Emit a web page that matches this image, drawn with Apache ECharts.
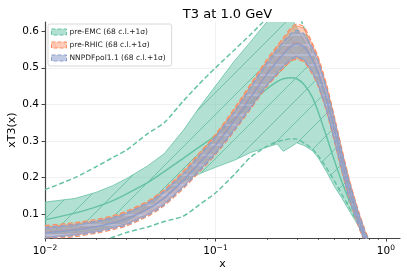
<!DOCTYPE html>
<html><head><meta charset="utf-8">
<script src="https://cdn.jsdelivr.net/npm/echarts@6/dist/echarts.min.js"></script>
<style>html,body{margin:0;padding:0;background:#fff}#c{width:407px;height:277px}</style>
</head><body><div id="c"></div>
<script>
const X = [0.01,0.015,0.02,0.025,0.03,0.04,0.05,0.065,0.08,0.1,0.13,0.16,0.2,0.23,0.25,0.28,0.3,0.33,0.37,0.4,0.45,0.5,0.55,0.6,0.65,0.7,0.75,0.8];

const emcCentral = [0.085,0.103,0.12,0.137,0.155,0.186,0.216,0.253,0.283,0.315,0.362,0.402,0.442,0.462,0.47,0.473,0.47,0.455,0.42,0.38,0.31,0.245,0.19,0.145,0.105,0.07,0.04,0.015];
const emcLow68 = [0.045,0.05,0.058,0.068,0.08,0.115,0.16,0.19,0.21,0.228,0.248,0.268,0.283,0.292,0.272,0.285,0.295,0.288,0.274,0.255,0.215,0.175,0.145,0.115,0.088,0.063,0.04,0.015];
const emcHigh68 = [0.133,0.143,0.16,0.178,0.197,0.232,0.265,0.33,0.39,0.45,0.52,0.57,0.625,0.65,0.66,0.635,0.61,0.575,0.525,0.478,0.405,0.328,0.255,0.185,0.125,0.08,0.04,0.01];
const emcLow1s = [-0.02,0.005,0.022,0.037,0.05,0.065,0.08,0.095,0.125,0.158,0.21,0.255,0.285,0.298,0.302,0.306,0.305,0.295,0.278,0.26,0.225,0.19,0.155,0.125,0.095,0.07,0.045,0.022];
const emcHigh1s = [0.167,0.2,0.23,0.255,0.275,0.32,0.35,0.41,0.455,0.5,0.55,0.59,0.635,0.66,0.675,0.68,0.66,0.61,0.54,0.49,0.42,0.34,0.265,0.195,0.135,0.088,0.048,0.015];

const rhicCentral = [0.05,0.058,0.067,0.077,0.088,0.115,0.145,0.195,0.24,0.29,0.36,0.42,0.485,0.52,0.54,0.563,0.568,0.56,0.525,0.49,0.415,0.33,0.25,0.18,0.125,0.08,0.042,0.012];
const rhicLow68 = [0.035,0.043,0.052,0.062,0.072,0.098,0.127,0.175,0.218,0.266,0.333,0.39,0.452,0.484,0.502,0.523,0.527,0.52,0.487,0.454,0.382,0.3,0.223,0.156,0.105,0.063,0.028,0.0];
const rhicHigh68 = [0.065,0.073,0.082,0.092,0.104,0.132,0.163,0.215,0.262,0.314,0.387,0.45,0.518,0.556,0.578,0.607,0.615,0.608,0.563,0.526,0.448,0.36,0.277,0.204,0.145,0.097,0.056,0.024];
const rhicLow1s = [0.031,0.039,0.048,0.058,0.068,0.094,0.123,0.171,0.214,0.262,0.329,0.386,0.448,0.48,0.498,0.519,0.523,0.516,0.483,0.45,0.378,0.296,0.219,0.152,0.101,0.059,0.024,-0.004];
const rhicHigh1s = [0.069,0.077,0.086,0.096,0.108,0.136,0.167,0.219,0.266,0.318,0.391,0.454,0.522,0.56,0.582,0.611,0.619,0.612,0.567,0.53,0.452,0.364,0.281,0.208,0.149,0.101,0.06,0.028];

const nnpdfCentral = [0.049,0.057,0.066,0.076,0.087,0.114,0.144,0.193,0.238,0.288,0.357,0.417,0.482,0.517,0.537,0.56,0.565,0.557,0.522,0.487,0.412,0.328,0.248,0.178,0.123,0.079,0.041,0.011];
const nnpdfLow68 = [0.037,0.045,0.054,0.064,0.074,0.1,0.129,0.177,0.22,0.268,0.335,0.392,0.454,0.487,0.506,0.527,0.531,0.524,0.491,0.457,0.385,0.303,0.226,0.158,0.106,0.065,0.029,0.001];
const nnpdfHigh68 = [0.061,0.069,0.078,0.088,0.1,0.128,0.159,0.209,0.256,0.308,0.379,0.442,0.51,0.547,0.568,0.593,0.599,0.59,0.553,0.517,0.439,0.353,0.27,0.198,0.14,0.093,0.053,0.021];
const nnpdfLow1s = [0.034,0.042,0.051,0.061,0.071,0.097,0.126,0.174,0.217,0.265,0.332,0.389,0.451,0.484,0.503,0.524,0.528,0.521,0.488,0.454,0.382,0.3,0.223,0.155,0.103,0.062,0.026,-0.002];
const nnpdfHigh1s = [0.064,0.072,0.081,0.091,0.103,0.131,0.162,0.212,0.259,0.311,0.382,0.445,0.513,0.55,0.571,0.596,0.602,0.593,0.556,0.52,0.442,0.356,0.273,0.201,0.143,0.096,0.056,0.024];

const xMajorTicks = [0.01, 0.1, 1];
const xMinorTicks = [0.02,0.03,0.04,0.05,0.06,0.07,0.08,0.09,0.2,0.3,0.4,0.5,0.6,0.7,0.8,0.9];
const yTicks = [0.1,0.2,0.3,0.4,0.5,0.6];
const seriesNames = ['pre-EMC (68 c.l.+1σ)', 'pre-RHIC (68 c.l.+1σ)', 'NNPDFpol1.1 (68 c.l.+1σ)'];

const GREEN = '#66c2a5', ORANGE = '#fc8d62', BLUE = '#8da0cb';
const FONT = 'DejaVu Sans';

function hatch(bg, lineColor, kind, s, lw) {
  const c = document.createElement('canvas');
  c.width = s; c.height = s;
  const g = c.getContext('2d');
  g.fillStyle = bg; g.fillRect(0, 0, s, s);
  g.strokeStyle = lineColor; g.lineWidth = lw;
  g.beginPath();
  if (kind === '/') {
    g.moveTo(-2, s + 2); g.lineTo(s + 2, -2);
    g.moveTo(-2, 2); g.lineTo(2, -2);
    g.moveTo(s - 2, s + 2); g.lineTo(s + 2, s - 2);
  } else if (kind === '\\') {
    g.moveTo(-2, -2); g.lineTo(s + 2, s + 2);
    g.moveTo(s - 2, -2); g.lineTo(s + 2, 2);
    g.moveTo(-2, s - 2); g.lineTo(2, s + 2);
  } else {
    g.moveTo(0, s / 2); g.lineTo(s, s / 2);
  }
  g.stroke();
  return { image: c, repeat: 'repeat' };
}

const greenPat = hatch('rgba(102,194,165,0.5)', 'rgba(70,170,140,0.85)', '/', 22, 0.7);
const orangePat = hatch('rgba(252,141,98,0.45)', 'rgba(240,120,80,0.6)', '\\', 12, 0.6);
const bluePat = hatch('rgba(141,160,203,0.55)', 'rgba(195,205,240,0.9)', '-', 10, 1);

function band(name, lo, hi, fill, stroke, z) {
  return {
    type: 'custom', name: name, clip: true, z: z,
    data: [[X[0], lo[0]]],
    encode: { x: 0, y: 1 },
    renderItem: function (params, api) {
      const pts = [];
      for (let i = 0; i < X.length; i++) pts.push(api.coord([X[i], hi[i]]));
      for (let i = X.length - 1; i >= 0; i--) pts.push(api.coord([X[i], lo[i]]));
      return { type: 'polygon', shape: { points: pts }, style: { fill: fill, stroke: stroke, lineWidth: 1 } };
    }
  };
}
function line(vals, color, dashed, z, w) {
  return {
    type: 'line', showSymbol: false, silent: true, z: z, smooth: 0.25,
    data: X.map((x, i) => [x, vals[i]]),
    lineStyle: { color: color, width: w || 1.5, type: dashed ? [5, 2.6] : 'solid' }
  };
}

const chart = echarts.init(document.getElementById('c'), null, { renderer: 'canvas' });
chart.setOption({
  animation: false,
  title: {
    text: 'T3 at 1.0 GeV', left: 222.5, top: 3, textAlign: 'center',
    textStyle: { fontFamily: FONT, fontSize: 13, fontWeight: 'normal', color: '#000' }
  },
  legend: {
    orient: 'vertical', left: 48, top: 24, itemWidth: 15, itemHeight: 6, itemGap: 5,
    backgroundColor: '#fff', borderColor: '#d8d8d8', borderWidth: 1, borderRadius: 2,
    padding: [4, 6, 4, 3],
    textStyle: { fontFamily: FONT, fontSize: 7.5, color: '#222', padding: [0, 0, 0, -2] },
    data: [
      { name: seriesNames[0], icon: 'rect', itemStyle: { color: greenPat, borderColor: GREEN, borderWidth: 1, borderType: 'dashed' } },
      { name: seriesNames[1], icon: 'rect', itemStyle: { color: orangePat, borderColor: ORANGE, borderWidth: 1, borderType: 'dashed' } },
      { name: seriesNames[2], icon: 'rect', itemStyle: { color: bluePat, borderColor: BLUE, borderWidth: 1, borderType: 'dashed' } }
    ]
  },
  grid: { left: 45, right: 7, top: 22, bottom: 39, outerBoundsMode: 'none', containLabel: false },
  xAxis: [{
    type: 'log', logBase: 10, min: 0.01, max: 1.21,
    name: 'x', nameLocation: 'middle', nameGap: 21, nameMoveOverlap: false,
    nameTextStyle: { fontFamily: FONT, fontSize: 11, color: '#000' },
    axisLine: { lineStyle: { color: '#444', width: 1.2 } },
    axisTick: { customValues: xMajorTicks, length: 3.5, lineStyle: { color: '#444' } },
    axisLabel: {
      customValues: xMajorTicks, margin: 6, fontFamily: FONT, fontSize: 10.5, color: '#000',
      formatter: function (v) { return '10{sup|' + (Math.round(Math.log10(v)) === 0 ? '0' : '−' + Math.abs(Math.round(Math.log10(v)))) + '}'; },
      rich: { sup: { fontFamily: FONT, fontSize: 7.5, padding: [0, 0, 7, 0], color: '#000' } }
    },
    splitLine: { show: true, showMinLine: false, showMaxLine: false, lineStyle: { color: '#eeeeee', width: 0.8 } }
  }, {
    type: 'log', logBase: 10, min: 0.01, max: 1.21, position: 'bottom',
    axisLine: { show: false },
    axisTick: { customValues: xMinorTicks, length: 2, lineStyle: { color: '#444', width: 0.8 } },
    axisLabel: { show: false },
    splitLine: { show: false }
  }],
  yAxis: {
    type: 'value', min: 0.035, max: 0.625,
    name: 'xT3(x)', nameLocation: 'middle', nameGap: 27, nameMoveOverlap: false,
    nameTextStyle: { fontFamily: FONT, fontSize: 11, color: '#000' },
    axisLine: { show: true, lineStyle: { color: '#444', width: 1.2 } },
    axisTick: { show: true, customValues: yTicks, length: 3.5, lineStyle: { color: '#444' } },
    axisLabel: { customValues: yTicks, margin: 6, fontFamily: FONT, fontSize: 10.5, color: '#000', formatter: v => v.toFixed(1) },
    splitLine: { show: true, showMinLine: false, showMaxLine: false, lineStyle: { color: '#eeeeee', width: 0.8 } }
  },
  series: [
    band(seriesNames[0], emcLow68, emcHigh68, greenPat, 'rgba(102,194,165,0.8)', 2),
    line(emcCentral, GREEN, false, 3),
    line(emcLow1s, GREEN, true, 3),
    line(emcHigh1s, GREEN, true, 3),
    band(seriesNames[1], rhicLow68, rhicHigh68, orangePat, 'rgba(252,141,98,0.9)', 4),
    line(rhicCentral, ORANGE, false, 5),
    line(rhicLow1s, ORANGE, true, 5, 1.2),
    line(rhicHigh1s, ORANGE, true, 5, 1.2),
    band(seriesNames[2], nnpdfLow68, nnpdfHigh68, bluePat, 'rgba(141,160,203,0.9)', 6),
    line(nnpdfCentral, BLUE, false, 7),
    line(nnpdfLow1s, BLUE, true, 7, 1.2),
    line(nnpdfHigh1s, BLUE, true, 7, 1.2)
  ]
});
</script></body></html>
